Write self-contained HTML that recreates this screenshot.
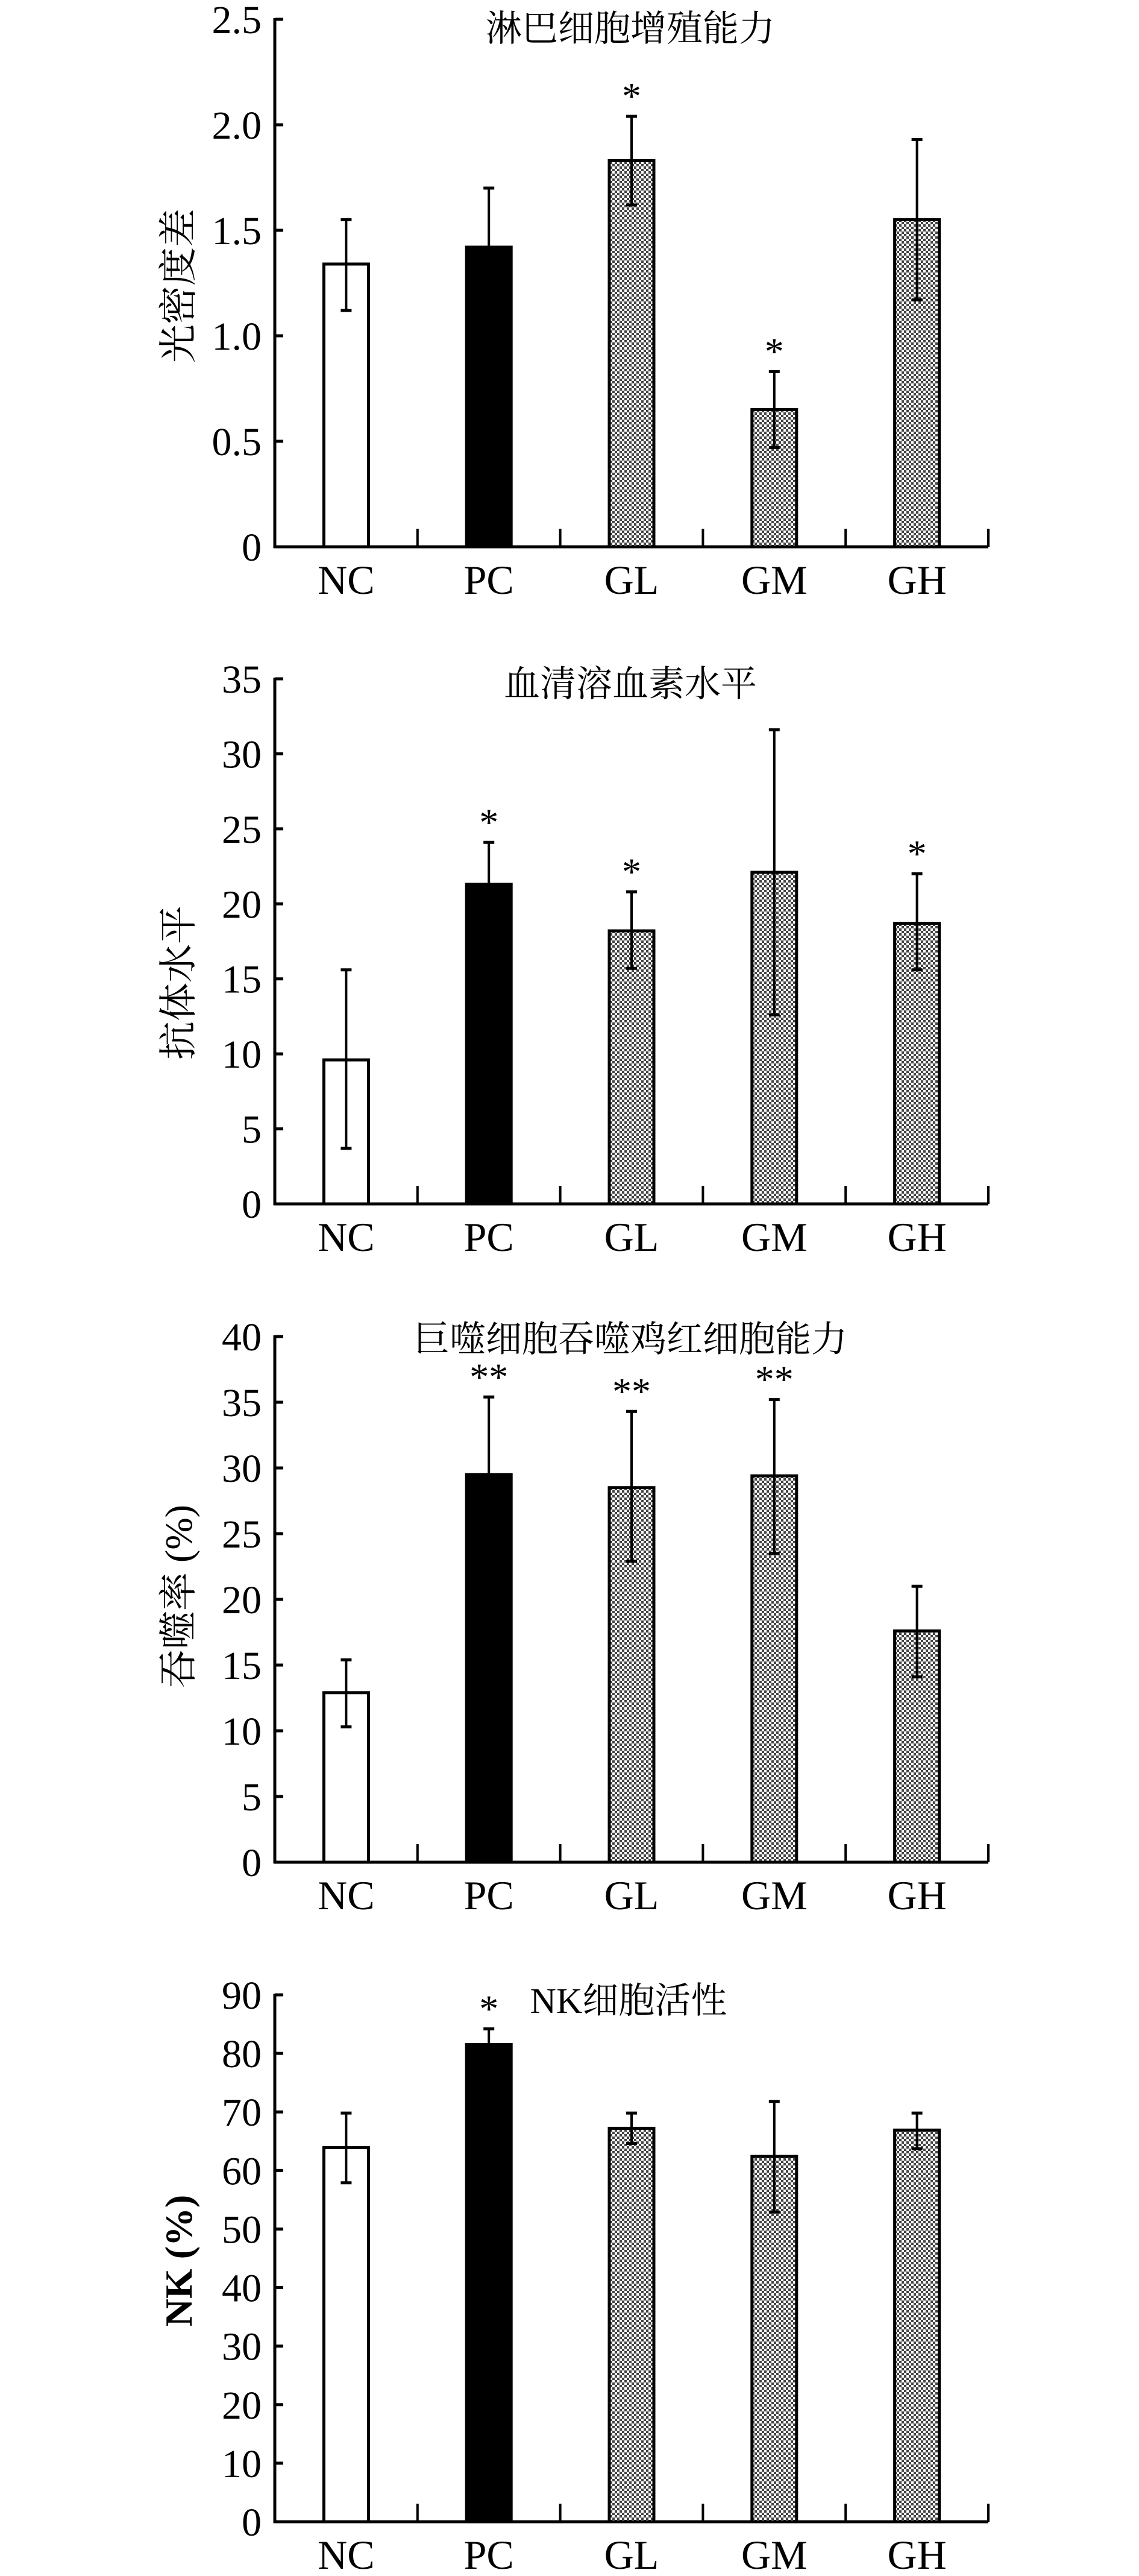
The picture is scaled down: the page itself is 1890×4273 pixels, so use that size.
<!DOCTYPE html>
<html><head><meta charset="utf-8">
<style>
html,body{margin:0;padding:0;background:#fff;}
svg{display:block;}
text{font-family:"Liberation Serif","Noto Serif CJK SC","Noto Sans CJK SC",serif;fill:#000;}
</style></head>
<body>
<svg id="fig" width="1890" height="4273" viewBox="0 0 1890 4273" xmlns="http://www.w3.org/2000/svg">
<defs>
<pattern id="hatch" width="8" height="8" patternUnits="userSpaceOnUse">
<rect width="8" height="8" fill="#fff"/>
<rect x="0" y="0" width="4" height="4" fill="#444"/>
<rect x="4" y="4" width="4" height="4" fill="#444"/>
</pattern>
</defs>
</svg>
<script>
const categories = ["NC","PC","GL","GM","GH"];
const p1Values = [1.34,1.42,1.83,0.65,1.55];
const p1Low = [1.12,1.13,1.62,0.47,1.17];
const p1High = [1.55,1.70,2.04,0.83,1.93];
const p1Stars = ["","","*","*",""];
const p1Ticks = ["0","0.5","1.0","1.5","2.0","2.5"];
const p2Values = [9.6,21.3,18.2,22.1,18.7];
const p2Low = [3.7,18.3,15.7,12.6,15.6];
const p2High = [15.6,24.1,20.8,31.6,22.0];
const p2Stars = ["","*","*","","*"];
const p2Ticks = ["0","5","10","15","20","25","30","35"];
const p3Values = [12.9,29.5,28.5,29.4,17.6];
const p3Low = [10.3,23.7,22.9,23.5,14.1];
const p3High = [15.4,35.4,34.3,35.2,21.0];
const p3Stars = ["","**","**","**",""];
const p3Ticks = ["0","5","10","15","20","25","30","35","40"];
const p4Values = [63.9,81.5,67.2,62.4,66.9];
const p4Low = [57.9,78.5,64.6,52.9,63.7];
const p4High = [69.8,84.2,69.8,71.8,69.8];
const p4Stars = ["","*","","",""];
const p4Ticks = ["0","10","20","30","40","50","60","70","80","90"];

const NS="http://www.w3.org/2000/svg";
const svg=document.getElementById('fig');
function mk(tag,attrs,parent,txt){const e=document.createElementNS(NS,tag);for(const k in attrs)e.setAttribute(k,attrs[k]);if(txt!==undefined)e.textContent=txt;(parent||svg).appendChild(e);return e;}

function panel(cfg){
  const g=mk('g',{});
  
  
  const x0=456,x1=1640,y0=cfg.zero,yt=cfg.top,max=cfg.max;
  const ys=v=>y0-(v/max)*(y0-yt);
  const step=(x1-x0)/categories.length;
  const xc=i=>x0+step*(i+0.5);
  const t=mk('text',{x:cfg.titleX,y:cfg.titleY,'font-size':60,'text-anchor':'middle'},g,cfg.title);
  
  
  const yt2=mk('text',{x:0,y:0,'font-size':64,'text-anchor':'middle',transform:`translate(318,${cfg.ytY}) rotate(-90)`,'font-weight':cfg.ytBold?'bold':'normal'},g,cfg.ytitle);
  
  
  categories.forEach((c,i)=>{
    const v=cfg.values[i];
    const fill=i===0?'#fff':(i===1?'#000':'url(#hatch)');
    const b=mk('rect',{x:xc(i)-37,y:ys(v),width:74,height:y0-ys(v),fill:fill,stroke:'#000','stroke-width':5},g);
    
    
    const eg=mk('g',{stroke:'#000','stroke-width':4},g);
    
    
    mk('line',{x1:xc(i),x2:xc(i),y1:ys(cfg.low[i]),y2:ys(cfg.high[i])},eg);
    mk('line',{x1:xc(i)-9,x2:xc(i)+9,y1:ys(cfg.low[i]),y2:ys(cfg.low[i]),'stroke-width':5},eg);
    mk('line',{x1:xc(i)-9,x2:xc(i)+9,y1:ys(cfg.high[i]),y2:ys(cfg.high[i]),'stroke-width':5},eg);
    if(cfg.stars[i]){
      const s=mk('text',{x:xc(i),y:ys(cfg.high[i])-12,'font-size':64,'text-anchor':'middle'},g,cfg.stars[i]);
      
      
    }
    const lb=mk('text',{x:xc(i),y:y0+78,'font-size':68,'text-anchor':'middle'},g,c);
    
    
  });
  const ax=mk('g',{stroke:'#000','stroke-width':5,fill:'none'},g);
  
  
  mk('line',{x1:x0,x2:x0,y1:yt-2,y2:y0+2},ax);
  mk('line',{x1:x0-2,x2:x1,y1:y0,y2:y0},ax);
  for(let k=1;k<=categories.length;k++){mk('line',{x1:x0+step*k,x2:x0+step*k,y1:y0,y2:y0-30,'stroke-width':4},ax);}
  cfg.ticks.forEach((tk,k)=>{
    const v=parseFloat(tk);
    mk('line',{x1:x0,x2:x0+14,y1:ys(v),y2:ys(v)},ax);
    const tl=mk('text',{x:434,y:ys(v)+23,'font-size':66,'text-anchor':'end'},g,tk);
    
    
  });
}
panel({name:'lymphocyte-proliferation-chart',title:'淋巴细胞增殖能力',titleX:1046,titleY:68,ytitle:'光密度差',ytY:474,zero:907,top:32,max:2.5,values:p1Values,low:p1Low,high:p1High,stars:p1Stars,ticks:p1Ticks});
panel({name:'hemolysin-chart',title:'血清溶血素水平',titleX:1046,titleY:1155,ytitle:'抗体水平',ytY:1630,zero:1997,top:1126,max:35,values:p2Values,low:p2Low,high:p2High,stars:p2Stars,ticks:p2Ticks});
panel({name:'phagocytosis-chart',title:'巨噬细胞吞噬鸡红细胞能力',titleX:1046,titleY:2242,ytitle:'吞噬率 (%)',ytY:2648,zero:3089,top:2217,max:40,values:p3Values,low:p3Low,high:p3High,stars:p3Stars,ticks:p3Ticks});
panel({name:'nk-activity-chart',title:'NK细胞活性',titleX:1043,titleY:3339,ytitle:'NK (%)',ytY:3750,ytBold:true,zero:4183,top:3309,max:90,values:p4Values,low:p4Low,high:p4High,stars:p4Stars,ticks:p4Ticks});
</script>
</body></html>
